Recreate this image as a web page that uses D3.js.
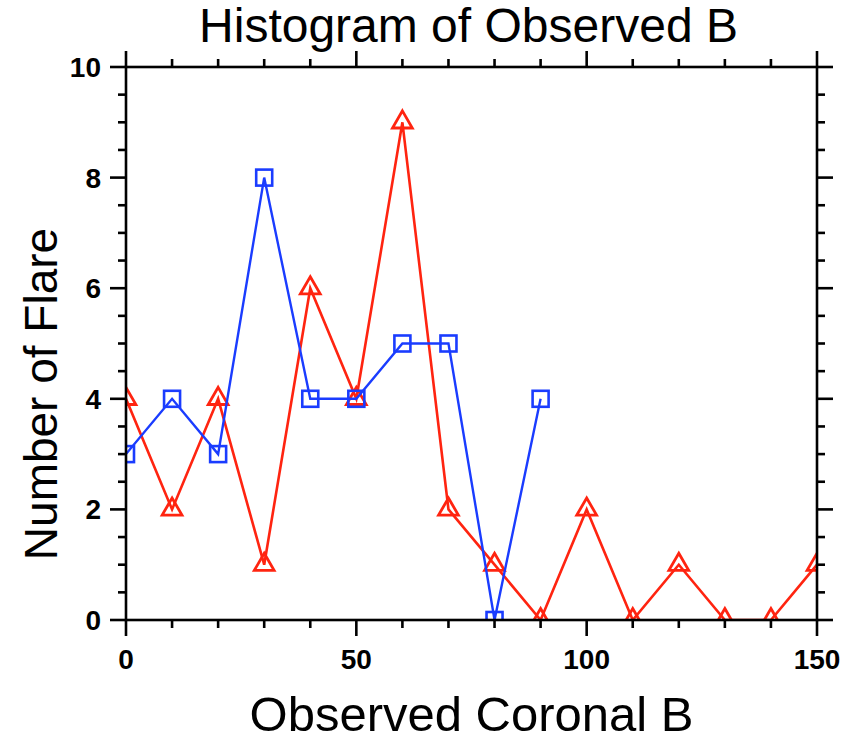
<!DOCTYPE html>
<html>
<head>
<meta charset="utf-8">
<script src="https://cdn.jsdelivr.net/npm/d3@7"></script>
<style>
  body { margin: 0; background: #fff; }
  text { font-family: "Liberation Sans", Arial, sans-serif; fill: #000; }
</style>
</head>
<body>
<div id="chart"></div>
<script>
// observed coronal B bins
const binsBlue = [0, 10, 20, 30, 40, 50, 60, 70, 80, 90];
const countsBlue = [3, 4, 3, 8, 4, 4, 5, 5, 0, 4];
const binsRed = [0, 10, 20, 30, 40, 50, 60, 70, 80, 90, 100, 110, 120, 130, 140, 150];
const countsRed = [4, 2, 4, 1, 6, 4, 9, 2, 1, 0, 2, 0, 1, 0, 0, 1];
const xTickLabels = [0, 50, 100, 150];
const yTickLabels = [0, 2, 4, 6, 8, 10];

const width = 859, height = 744;
const plotL = 126, plotR = 817, plotT = 67, plotB = 620;

const svg = d3.select("#chart").append("svg")
  .attr("width", width).attr("height", height);

const x = d3.scaleLinear().domain([0, 150]).range([plotL, plotR]);
const y = d3.scaleLinear().domain([0, 10]).range([plotB, plotT]);

/*---- clip for data ----*/
svg.append("defs").append("clipPath").attr("id", "plotClip")
  .append("rect")
  .attr("x", plotL).attr("y", plotT)
  .attr("width", plotR - plotL).attr("height", plotB - plotT);

const data_g = svg.append("g").attr("clip-path", "url(#plotClip)");

const red = "#ff2410", blue = "#1a3cff";

const line = d3.line().x(d => x(d[0])).y(d => y(d[1]));

const redPts = binsRed.map((b, i) => [b, countsRed[i]]);
const bluePts = binsBlue.map((b, i) => [b, countsBlue[i]]);

// red series
data_g.append("path").datum(redPts)
  .attr("d", line).attr("fill", "none")
  .attr("stroke", red).attr("stroke-width", 2.6);

const tri = d3.symbol().type(d3.symbolTriangle).size(170);
data_g.selectAll("path.tri").data(redPts).enter().append("path")
  .attr("class", "tri")
  .attr("d", tri)
  .attr("transform", d => "translate(" + x(d[0]) + "," + y(d[1]) + ")")
  .attr("fill", "none").attr("stroke", red).attr("stroke-width", 2.8);

// blue series
data_g.append("path").datum(bluePts)
  .attr("d", line).attr("fill", "none")
  .attr("stroke", blue).attr("stroke-width", 2.4);

const sq = 16;
data_g.selectAll("rect.sq").data(bluePts).enter().append("rect")
  .attr("class", "sq")
  .attr("x", d => x(d[0]) - sq / 2).attr("y", d => y(d[1]) - sq / 2)
  .attr("width", sq).attr("height", sq)
  .attr("fill", "none").attr("stroke", blue).attr("stroke-width", 2.6);

/*---- axes: box with outward ticks ----*/
const axis_g = svg.append("g").attr("stroke", "#000").attr("stroke-width", 2.6);

axis_g.append("rect")
  .attr("x", plotL).attr("y", plotT)
  .attr("width", plotR - plotL).attr("height", plotB - plotT)
  .attr("fill", "none");

const xTicks = d3.range(0, 151, 10);
const yTicks = d3.range(0, 10.01, 0.5);
const majorLen = 16, minorLen = 8;

xTicks.forEach(t => {
  const len = t % 50 === 0 ? majorLen : minorLen;
  axis_g.append("line").attr("x1", x(t)).attr("x2", x(t)).attr("y1", plotB).attr("y2", plotB + len);
  axis_g.append("line").attr("x1", x(t)).attr("x2", x(t)).attr("y1", plotT).attr("y2", plotT - len);
});
yTicks.forEach(t => {
  const len = Math.abs(t % 2) < 1e-9 ? majorLen : minorLen;
  axis_g.append("line").attr("y1", y(t)).attr("y2", y(t)).attr("x1", plotL).attr("x2", plotL - len);
  axis_g.append("line").attr("y1", y(t)).attr("y2", y(t)).attr("x1", plotR).attr("x2", plotR + len);
});

/*---- tick labels ----*/
svg.append("g").selectAll("text").data(xTickLabels).enter().append("text")
  .attr("x", d => x(d)).attr("y", 669)
  .attr("text-anchor", "middle")
  .style("font-size", "28px").style("font-weight", "bold")
  .text(d => d);

svg.append("g").selectAll("text").data(yTickLabels).enter().append("text")
  .attr("x", 101).attr("y", d => y(d)).attr("dy", "0.36em")
  .attr("text-anchor", "end")
  .style("font-size", "28px").style("font-weight", "bold")
  .text(d => d);

/*---- titles ----*/
svg.append("text")
  .attr("x", (plotL + plotR) / 2 - 3).attr("y", 42)
  .attr("text-anchor", "middle")
  .style("font-size", "48px")
  .text("Histogram of Observed B");

svg.append("text")
  .attr("x", (plotL + plotR) / 2).attr("y", 731)
  .attr("text-anchor", "middle")
  .style("font-size", "49px")
  .text("Observed Coronal B");

svg.append("text")
  .attr("transform", "translate(57,394) rotate(-90)")
  .attr("text-anchor", "middle")
  .style("font-size", "46px")
  .text("Number of Flare");
</script>
</body>
</html>
